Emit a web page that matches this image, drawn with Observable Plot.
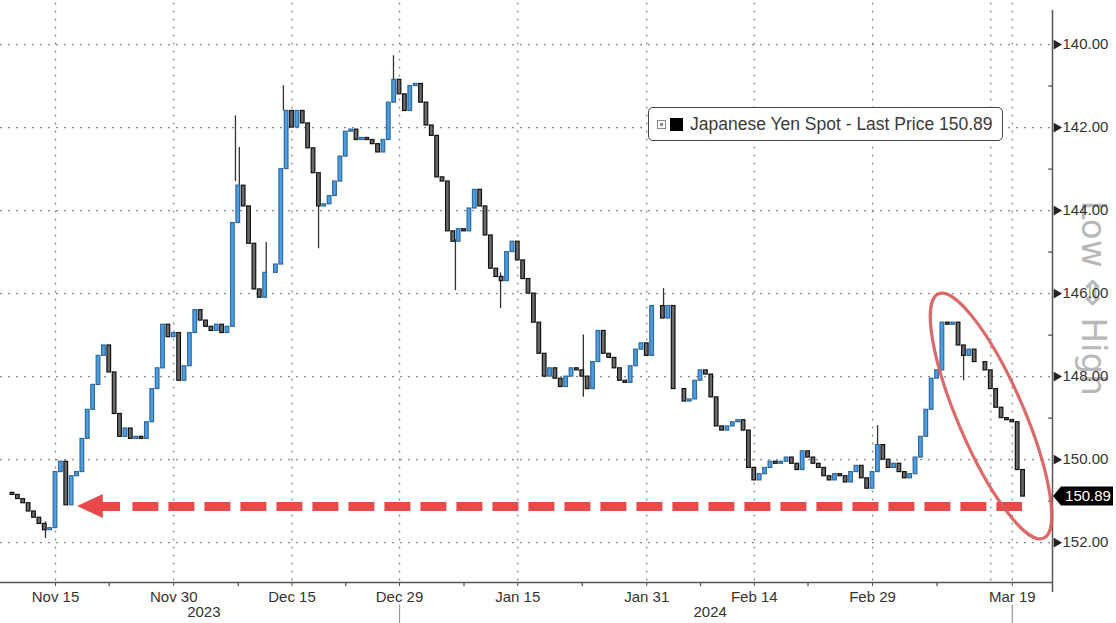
<!DOCTYPE html>
<html>
<head>
<meta charset="utf-8">
<script src="https://cdn.jsdelivr.net/npm/d3@7"></script>
<script src="https://cdn.jsdelivr.net/npm/@observablehq/plot@0.6"></script>
<style>
  html, body { margin: 0; padding: 0; background: #fff; }
  #wrap { position: relative; width: 1116px; height: 623px; overflow: hidden; font-family: "Liberation Sans", Arial, sans-serif; }
  #legend { position: absolute; left: 648px; top: 107px; width: 355px; height: 34px; box-sizing: border-box;
    border: 1px solid #444; border-radius: 5px; background: #fff; display: flex; align-items: center;
    font-size: 17.5px; color: #3a3a3a; white-space: nowrap; }
  #legend .ico1 { width: 7px; height: 7px; border: 1px solid #888; margin-left: 8px; position: relative; }
  #legend .ico1::after { content: ""; position: absolute; left: 2px; top: 2px; width: 3px; height: 3px; background: #888; }
  #legend .ico2 { width: 13px; height: 13px; background: #000; margin-left: 4px; margin-right: 7px; }
</style>
</head>
<body>
<div id="wrap"></div>
<script>
// ---- data ----
// half-trading-day closes (trading-day index, weekends removed), starting at index -0.5, step 0.5
const startIndex = -0.5;
const stepSize = 0.5;
const closes = [
  150.80, 150.85, 150.95, 151.05, 151.25, 151.40, 151.55, 151.70, 151.65, 150.30,
  150.05, 151.10, 150.40, 150.30, 149.50, 148.80, 148.20, 147.50, 147.25, 147.90,
  148.90, 149.45, 149.25, 149.50, 149.45, 149.50, 149.10, 148.30, 147.80, 146.75,
  147.05, 146.95, 148.10, 147.75, 146.95, 146.40, 146.65, 146.80, 146.90, 146.75,
  146.95, 146.80, 144.30, 143.40, 143.90, 144.80, 145.90, 146.10, 145.50, 145.50,
  145.30, 143.00, 141.60, 142.00, 141.60, 141.90, 142.50, 143.10, 143.90, 143.85,
  143.65, 143.30, 142.70, 142.10, 142.05, 142.30, 142.25, 142.30, 142.40, 142.60,
  142.30, 141.40, 140.85, 141.20, 141.60, 141.00, 140.95, 141.40, 141.95, 142.20,
  143.20, 143.30, 144.50, 144.75, 144.45, 144.50, 143.95, 143.50, 143.90, 144.60,
  145.40, 145.60, 145.70, 145.00, 144.75, 145.20, 145.65, 146.00, 146.70, 147.45,
  148.00, 147.80, 148.05, 148.25, 148.00, 147.80, 147.85, 148.00, 148.30, 147.65,
  146.90, 147.45, 147.55, 147.80, 148.10, 148.15, 147.75, 147.35, 147.20, 147.50,
  146.30, 146.30, 146.60, 146.30, 148.30, 148.30, 148.60, 148.55, 148.10, 147.85,
  147.95, 148.50, 149.20, 149.30, 149.20, 149.10, 149.05, 149.30, 150.20, 150.50,
  150.35, 150.20, 150.05, 150.10, 150.05, 149.95, 150.10, 150.25, 149.80, 149.95,
  150.10, 150.20, 150.40, 150.50, 150.35, 150.40, 150.55, 150.30, 150.15, 150.45,
  150.70, 150.30, 149.65, 150.00, 150.20, 150.10, 150.30, 150.45, 150.35, 149.95,
  149.45, 148.80, 148.05, 147.85, 146.70, 146.75, 146.70, 147.25, 147.50, 147.35,
  147.65, 147.65, 147.85, 148.30, 148.75, 149.00, 149.05, 149.10, 150.25, 150.89
];
// wicks: [trading-day index, from, to]
const wickIdx  = [3.07, 20.74, 21.1, 23.6, 25.2, 28.47, 35.44, 41.2, 45.4, 53.1, 60.56, 80.47, 88.47];
const wickFrom = [151.5, 143.3, 143.8, 145.5, 141.6, 143.5, 140.85, 144.7, 145.5, 147.0, 146.3, 149.7, 147.4];
const wickTo   = [151.9, 141.72, 142.48, 144.77, 140.99, 144.92, 140.27, 145.93, 146.36, 148.5, 145.88, 149.18, 148.1];

const xTickIdx = [4, 15, 26, 36, 47, 59, 69, 80, 93];
const xTickLabels = ["Nov 15", "Nov 30", "Dec 15", "Dec 29", "Jan 15", "Jan 31", "Feb 14", "Feb 29", "Mar 19"];
const xMinorIdx = [9, 21, 31, 42, 53, 64, 74, 86];
const xGridIdx = [4, 15, 26, 36, 47, 59, 69, 80, 91, 93];
const yearLabels = ["2023", "2024"];
const yearIdx = [17.8, 64.9];
const yearSepIdx = [36, 93];
const yTicks = [140, 142, 144, 146, 148, 150, 152];
const yMinor = [141, 143, 145, 147, 149, 151];
const lastPrice = 150.89;
const legendText = "Japanese Yen Spot - Last Price 150.89";
const sideLabel = "Low \u21D4 High";
const sideLabelLevel = 146.12;
const arrowLevel = 151.13;
const arrowTipIdx = 6.05, arrowBaseIdx = 8.45, arrowStemIdx = 10.05, dashStartIdx = 11.2, dashEndIdx = 93.95;
const ellipseCenter = [91.07, 148.96];

// ---- build ----
const xDom = [-1.116, 96.74];
const yDom = [139.18, 152.96];
const xMax = xDom[1];

const candles = closes.slice(1).map((c, j) => ({
  i: startIndex + (j + 1) * stepSize,
  open: closes[j],
  close: c
}));
const upC = candles.filter(d => d.close < d.open);
const dnC = candles.filter(d => d.close >= d.open);
const wicks = wickIdx.map((i, j) => ({ i, a: wickFrom[j], b: wickTo[j] }));
const bw = 0.17;

const plot = Plot.plot({
  width: 1116,
  height: 623,
  marginLeft: 0,
  marginRight: 64,
  marginTop: 10,
  marginBottom: 41,
  style: { fontFamily: "Liberation Sans, Arial, sans-serif", fontSize: "15px", color: "#333", background: "#fff" },
  x: { type: "linear", domain: xDom, label: null, axis: null },
  y: { type: "linear", domain: yDom, reverse: true, label: null, axis: null },
  marks: [
    Plot.ruleY(yTicks, { x1: xDom[0], x2: xMax, stroke: "#8a8a8a", strokeWidth: 1.3, strokeDasharray: "2,6" }),
    Plot.ruleX(xGridIdx, { y1: 139.0, y2: yDom[1], stroke: "#8a8a8a", strokeWidth: 1.3, strokeDasharray: "2,6" }),
    Plot.ruleX(wicks, { x: "i", y1: "a", y2: "b", stroke: "#333", strokeWidth: 1.3 }),
    Plot.rect(dnC, { x1: d => d.i - bw, x2: d => d.i + bw, y1: "open", y2: "close", fill: "#6a6a6a", stroke: "#111", strokeWidth: 1.2 }),
    Plot.rect(upC, { x1: d => d.i - bw, x2: d => d.i + bw, y1: "open", y2: "close", fill: "#4f9fde", stroke: "#2c6aa6", strokeWidth: 1.2 }),
    // right axis
    Plot.ruleX([xMax], { y1: yDom[0], y2: 153.2, stroke: "#555", strokeWidth: 1.5 }),
    Plot.ruleY(yMinor, { x1: xMax - 0.35, x2: xMax, stroke: "#444", strokeWidth: 1.2 }),
    Plot.dot(yTicks, { x: d => xMax, y: d => d, symbol: "triangle", rotate: 90, r: 3.6, fill: "#222", stroke: "none", dx: 4 }),
    Plot.axisY({ anchor: "right", ticks: yTicks, tickFormat: d => d.toFixed(2), tickSize: 0, tickPadding: 10, fontSize: 15, fill: "#333", label: null }),
    // bottom axis
    Plot.ruleY([yDom[1]], { x1: xDom[0], x2: xMax, stroke: "#555", strokeWidth: 1.5 }),
    Plot.ruleX(xMinorIdx, { y1: yDom[1], y2: 153.06, stroke: "#555", strokeWidth: 1.3 }),
    Plot.axisX({ ticks: xTickIdx, tickFormat: d => xTickLabels[xTickIdx.indexOf(d)], tickSize: 4, tickPadding: 5, fontSize: 15, fill: "#333", stroke: "#555", label: null }),
    Plot.text(yearLabels, { x: (d, j) => yearIdx[j], text: d => d, frameAnchor: "bottom", dy: 34, fontSize: 15, fill: "#333" }),
    Plot.ruleX(yearSepIdx, { y1: 153.5, y2: 154.2, stroke: "#999", strokeWidth: 1.2 }),
    // dashed red arrow
    Plot.ruleY([arrowLevel], { x1: dashStartIdx, x2: dashEndIdx, stroke: "#e84a4a", strokeWidth: 9, strokeDasharray: "26,10" }),
    Plot.ruleY([arrowLevel], { x1: arrowBaseIdx - 0.2, x2: arrowStemIdx, stroke: "#e84a4a", strokeWidth: 9 })
  ]
});

document.getElementById("wrap").appendChild(plot);

const sx = plot.scale("x"), sy = plot.scale("y");
const X = v => sx.apply(v), Y = v => sy.apply(v);
const svg = d3.select(plot);

// vertical side label, behind everything else
const sly = Y(sideLabelLevel), slx = X(xMax) + 42;
svg.insert("text", ":first-child")
  .attr("transform", `translate(${slx},${sly}) rotate(90)`)
  .attr("text-anchor", "middle").attr("dominant-baseline", "central")
  .attr("fill", "#b8b8b8").attr("font-size", 34)
  .attr("font-family", "DejaVu Sans, Liberation Sans, sans-serif")
  .text(sideLabel);

// arrowhead
const ay = Y(arrowLevel);
svg.append("path")
  .attr("d", `M${X(arrowTipIdx)},${ay} L${X(arrowBaseIdx)},${ay - 12} L${X(arrowBaseIdx)},${ay + 12} Z`)
  .attr("fill", "#e84a4a");

// ellipse annotation
const ecx = X(ellipseCenter[0]), ecy = Y(ellipseCenter[1]);
svg.append("ellipse")
  .attr("cx", ecx).attr("cy", ecy).attr("rx", 133).attr("ry", 33)
  .attr("transform", `rotate(66.7 ${ecx} ${ecy})`)
  .attr("fill", "none").attr("stroke", "#d85a5a").attr("stroke-width", 3.2).attr("opacity", 0.9);

// last price tag
const ty = Y(lastPrice), tx = X(xMax);
svg.append("path")
  .attr("d", `M${tx + 1},${ty} L${tx + 9},${ty - 9.5} L${tx + 61},${ty - 9.5} L${tx + 61},${ty + 9.5} L${tx + 9},${ty + 9.5} Z`)
  .attr("fill", "#000");
svg.append("text")
  .attr("x", tx + 36).attr("y", ty).attr("dy", "0.36em")
  .attr("text-anchor", "middle").attr("fill", "#fff")
  .attr("font-size", 15).attr("font-family", "Liberation Sans, Arial, sans-serif")
  .text(lastPrice.toFixed(2));

// legend
const lg = document.createElement("div");
lg.id = "legend";
lg.innerHTML = `<span class="ico1"></span><span class="ico2"></span><span></span>`;
lg.lastChild.textContent = legendText;
document.getElementById("wrap").appendChild(lg);
</script>
</body>
</html>
